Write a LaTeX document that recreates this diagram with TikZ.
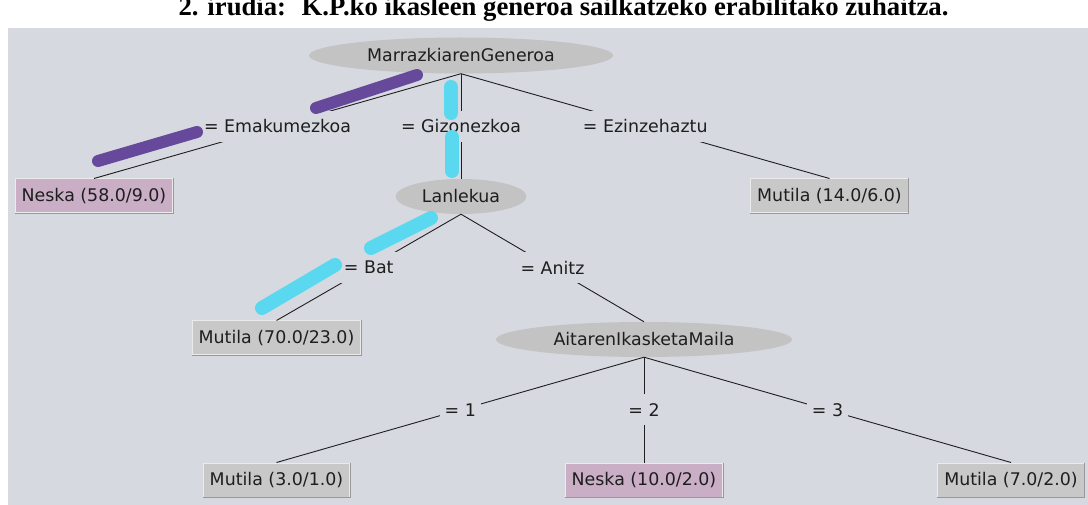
\documentclass[tikz,border=0pt]{standalone}
\usepackage{fontspec}
\usepackage{tikz}
\usetikzlibrary{shapes.geometric,positioning}
\newfontfamily\wekafont{DejaVu Sans}
\newfontfamily\titlefont{Liberation Serif}
\definecolor{panelbg}{RGB}{214,217,224}
\definecolor{attrgray}{RGB}{195,195,195}
\definecolor{leafgray}{RGB}{200,200,200}
\definecolor{leafpink}{RGB}{201,174,198}
\definecolor{markpurple}{RGB}{103,73,155}
\definecolor{markcyan}{RGB}{90,216,240}
\definecolor{inkdark}{RGB}{30,30,30}
\tikzset{
  attr/.style={ellipse, fill=attrgray, inner sep=0pt, minimum height=36, text=inkdark},
  leaf/.style={rectangle, fill=leafgray, draw=white!92!black, line width=1pt, inner xsep=6.5, minimum height=34, text=inkdark},
  leafn/.style={leaf, fill=leafpink},
  elabel/.style={fill=panelbg, inner xsep=5, inner ysep=0, minimum height=31, text=inkdark},
  branch/.style={inkdark, line width=0.9pt},
  bevel/.style={black!40, line width=1pt},
  markp/.style={markpurple, line width=12, line cap=round},
  markc/.style={markcyan, line width=14, line cap=round},
}

\begin{document}
\begin{tikzpicture}[x=1pt,y=-1pt,font=\wekafont\fontsize{17.4}{20}\selectfont]
  \useasboundingbox (0,0) rectangle (1088,505);
  \clip (0,0) rectangle (1088,505);
  \fill[panelbg] (8,28) rectangle (1088,505);
  \node[anchor=base, font=\titlefont\bfseries\fontsize{26.7}{30}\selectfont] (title) at (563.5,15.5)
    {2. irudia:~ K.P.ko ikasleen generoa sailkatzeko erabilitako zuhaitza.};

  % attribute nodes
  \node[attr, minimum width=304] (genero) at (461,55.5) {MarrazkiarenGeneroa};
  \node[attr, minimum width=131, minimum height=35] (lanlekua) at (461,196.5) {Lanlekua};
  \node[attr, minimum width=296, minimum height=35] (aitaren) at (644,339.5) {AitarenIkasketaMaila};

  % leaves
  \node[leafn] (neskaA) at (94,196) {Neska (58.0/9.0)};
  \node[leaf] (mutilaA) at (829.5,196) {Mutila (14.0/6.0)};
  \node[leaf] (mutilaB) at (276.5,338) {Mutila (70.0/23.0)};
  \node[leaf] (mutilaC) at (276.5,480) {Mutila (3.0/1.0)};
  \node[leafn] (neskaB) at (644,480) {Neska (10.0/2.0)};
  \node[leaf] (mutilaD) at (1011,480) {Mutila (7.0/2.0)};
  \foreach \n in {neskaA,mutilaA,mutilaB,mutilaC,neskaB,mutilaD}
    \draw[bevel] (\n.south west) -- (\n.south east) -- (\n.north east);

  % branches
  \draw[branch] (genero.south) -- node[elabel] {= Emakumezkoa} (neskaA.north);
  \draw[branch] (genero.south) -- node[elabel] {= Gizonezkoa} (lanlekua.north);
  \draw[branch] (genero.south) -- node[elabel] {= Ezinzehaztu} (mutilaA.north);
  \draw[branch] (lanlekua.south) -- node[elabel] {= Bat} (mutilaB.north);
  \draw[branch] (lanlekua.south) -- node[elabel] {= Anitz} (aitaren.north);
  \foreach \c/\v in {mutilaC/1, neskaB/2, mutilaD/3}
    \draw[branch] (aitaren.south) -- node[elabel] {= \v} (\c.north);

  % marker strokes
  \draw[markp] (316,108) -- (417,75);
  \draw[markp] (98,161) -- (197,132);
  \draw[markc] (451,87) -- (451,113);
  \draw[markc] (452,137) -- (452,171);
  \draw[markc] (371,248) -- (431,218);
  \draw[markc] (262,308) -- (335,265);
\end{tikzpicture}
\end{document}
